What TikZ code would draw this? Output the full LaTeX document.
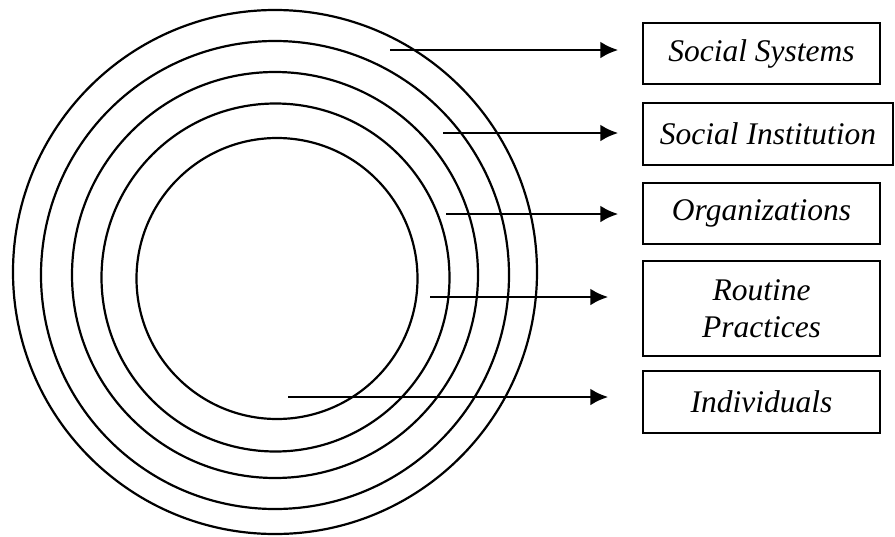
\documentclass[tikz,border=0pt]{standalone}
\usepackage{fontspec}
\setmainfont{Liberation Serif}
\usetikzlibrary{arrows.meta,calc}
\begin{document}
\begin{tikzpicture}[x=1pt,y=-1pt,
  ring/.style={line width=2.2pt},
  lbox/.style={draw,line width=1.5pt,inner sep=0pt,minimum width=237pt,minimum height=61pt,
    font=\fontsize{31.5}{37}\selectfont\itshape,align=center},
  arr/.style={line width=2.8pt,-{Latex[length=18pt,width=17pt]}}]
\useasboundingbox (0,0) rectangle (895,536);
% rings
\draw[ring] (275,272) circle[radius=262pt];
\draw[ring] (275,275) circle[radius=234pt];
\draw[ring] (275,275) circle[radius=203pt];
\draw[ring] (275.5,277.5) circle[radius=174pt];
\draw[ring] (277,278.5) circle[radius=140.5pt];
% boxes
\node[lbox] (b1) at (761.5,53.5) {Social Systems};
\node[lbox,minimum width=250pt,minimum height=62pt] (b2) at (768,134) {Social Institution};
\node[lbox] (b3) at (761.5,213.5) {Organizations};
\node[lbox,minimum height=95pt] (b4) at (761.5,308.5) {Routine\\Practices};
\node[lbox,minimum height=62pt] (b5) at (761.5,402) {Individuals};
% arrow starts
\coordinate (s1) at (390,50);
\coordinate (s2) at (443,133);
\coordinate (s3) at (446,214);
\coordinate (s4) at (430,297);
\coordinate (s5) at (288,397);
\coordinate (t1) at ([xshift=-24pt]s1 -| b1.west);
\coordinate (t2) at ([xshift=-24pt]s2 -| b2.west);
\coordinate (t3) at ([xshift=-24pt]s3 -| b3.west);
\coordinate (t4) at ([xshift=-34pt]s4 -| b4.west);
\coordinate (t5) at ([xshift=-34pt]s5 -| b5.west);
\draw[arr] (s1) -- (t1);
\draw[arr] (s2) -- (t2);
\draw[arr] (s3) -- (t3);
\draw[arr] (s4) -- (t4);
\draw[arr] (s5) -- (t5);
\end{tikzpicture}
\end{document}
